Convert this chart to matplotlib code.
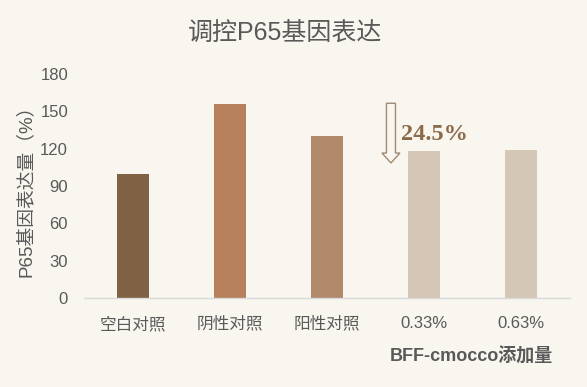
import matplotlib.pyplot as plt
from matplotlib.patches import FancyArrow

plt.rcParams['font.family'] = ['Liberation Sans', 'Noto Sans CJK SC', 'DejaVu Sans']

categories = ['空白对照', '阴性对照', '阳性对照', '0.33%', '0.63%']
values = [100, 156, 130, 118, 119]
colors = ['#7F6244', '#B5805B', '#B0896A', '#D5C6B5', '#D5C7B6']
yticks = [0, 30, 60, 90, 120, 150, 180]
reduction_label = '24.5%'

bg = '#F9F6EF'
grey = '#595959'
fig = plt.figure(figsize=(5.87, 3.87), dpi=100, facecolor=bg)
ax = fig.add_axes([84 / 587, 1 - 298 / 387, 486 / 587, 224 / 387], facecolor=bg)

x = range(len(categories))
ax.bar(x, values, width=0.33, color=colors)

ax.set_xlim(-0.5, len(categories) - 0.5)
ax.set_ylim(0, 180)
ax.set_yticks(yticks)
ax.set_xticks(list(x))
ax.set_xticklabels(categories)
ax.tick_params(axis='both', length=0, labelsize=12, colors=grey)
ax.tick_params(axis='y', pad=11.5)
ax.tick_params(axis='x', pad=13)

for s in ['top', 'right', 'left']:
    ax.spines[s].set_visible(False)
ax.spines['bottom'].set_color('#D9D9D9')
ax.spines['bottom'].set_linewidth(1)

ax.set_ylabel('P65基因表达量（%）', fontsize=13.5, color=grey, labelpad=4)

fig.text(285 / 587, 1 - 33 / 387, '调控P65基因表达', ha='center', va='center',
         fontsize=18, color=grey)

fig.text(553 / 587, 1 - 357 / 387, 'BFF-cmocco添加量', ha='right', va='center',
         fontsize=13, color=grey, fontweight='bold')

# hollow arrow pointing down to the treated bars
arr = FancyArrow(2.658, 156.5, 0, -48, width=0.093, head_width=0.185, head_length=8,
                 length_includes_head=True, facecolor=bg, edgecolor='#A08A74',
                 linewidth=1.0)
ax.add_patch(arr)
ax.text(2.76, 131, reduction_label, ha='left', va='center', fontsize=17.5,
        fontweight='bold', color='#8B6A4A', family='Liberation Serif')

fig.savefig('out.png', dpi=100, facecolor=bg)
